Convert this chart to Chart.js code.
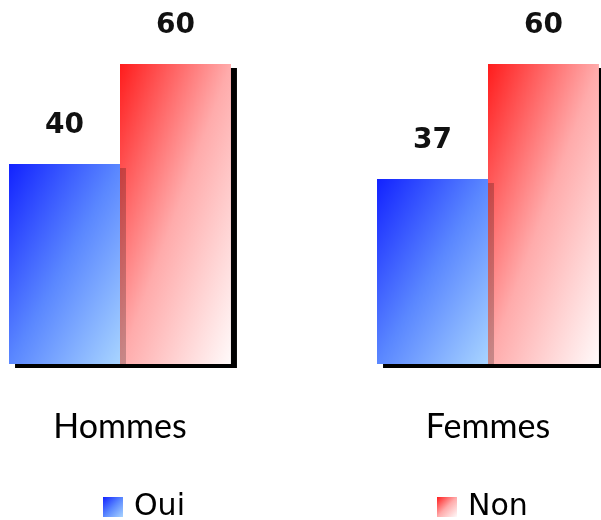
<!DOCTYPE html>
<html>
<head>
<meta charset="utf-8">
<script src="https://cdn.jsdelivr.net/npm/chart.js@4/dist/chart.umd.min.js"></script>
<style>
  html, body { margin: 0; padding: 0; background: #fff; }
</style>
</head>
<body>
<canvas id="chart" width="601" height="520"></canvas>
<script>
// data
var categories = ['Hommes', 'Femmes'];
var seriesNames = ['Oui', 'Non'];
var ouiValues = [40, 37];
var nonValues = [60, 60];
var yMin = 0;
var yMax = 60;

// gradient stops, top-left corner -> bottom-right corner
var ouiStops = ['#1222ff', '#5a87ff', '#a8d4ff'];
var nonStops = ['#ff1c1c', '#ffabab', '#fffafa'];

// linear gradient whose iso-lines follow the box's other diagonal
function diagGradient(ctx, x0, y0, w, h, stops) {
    var k = 2 * w * h / (w * w + h * h);
    var g = ctx.createLinearGradient(x0, y0, x0 + h * k, y0 + w * k);
    g.addColorStop(0, stops[0]);
    g.addColorStop(0.5, stops[1]);
    g.addColorStop(1, stops[2]);
    return g;
}

function paintMeta(chart, meta, stops, shadow) {
    var ctx = chart.ctx;
    meta.data.forEach(function (bar) {
        var p = bar.getProps(['x', 'y', 'base', 'width'], true);
        var grad = diagGradient(ctx, p.x - p.width / 2, p.y, p.width, p.base - p.y, stops);
        bar.options = Object.assign({}, bar.options, { backgroundColor: grad });
    });
    ctx.save();
    ctx.shadowColor = shadow;
    ctx.shadowOffsetX = 6;
    ctx.shadowOffsetY = 4;
    ctx.shadowBlur = 0;
    meta.controller.draw();
    ctx.restore();
}

function drawValues(chart) {
    var ctx = chart.ctx;
    ctx.save();
    ctx.font = 'bold 28px "DejaVu Sans"';
    ctx.fillStyle = '#111';
    ctx.textAlign = 'center';
    ctx.textBaseline = 'middle';
    chart.data.datasets.forEach(function (ds, di) {
        chart.getDatasetMeta(di).data.forEach(function (bar, i) {
            ctx.fillText(String(ds.data[i]), bar.x, bar.y - 38);
        });
    });
    ctx.restore();
}

var barLook = {
    id: 'barLook',
    beforeDatasetsDraw: function (chart) {
        var oui = chart.getDatasetMeta(0);
        var non = chart.getDatasetMeta(1);
        // blue shadow solid on white, faint where it falls on the red bar
        paintMeta(chart, oui, ouiStops, 'rgba(0,0,0,1)');
        paintMeta(chart, non, nonStops, 'rgba(0,0,0,1)');
        paintMeta(chart, oui, ouiStops, 'rgba(0,0,0,0.22)');
        drawValues(chart);
        return false;
    },
    afterDraw: function (chart) {
        var ctx = chart.ctx;
        var boxX = [103, 437];
        var stops = [ouiStops, nonStops];
        ctx.save();
        ctx.font = '30px "DejaVu Sans"';
        ctx.textBaseline = 'middle';
        seriesNames.forEach(function (name, i) {
            ctx.fillStyle = diagGradient(ctx, boxX[i], 497, 20, 20, stops[i]);
            ctx.fillRect(boxX[i], 497, 20, 20);
            ctx.fillStyle = '#000';
            ctx.fillText(name, boxX[i] + 31, 507);
        });
        ctx.restore();
    }
};

var chart = new Chart(document.getElementById('chart'), {
    type: 'bar',
    data: {
        labels: categories,
        datasets: [
            { label: seriesNames[0], data: ouiValues, backgroundColor: '#5a87ff' },
            { label: seriesNames[1], data: nonValues, backgroundColor: '#ffabab' }
        ]
    },
    options: {
        responsive: false,
        animation: false,
        layout: { padding: { left: 120, right: 113, top: 64, bottom: 76 } },
        datasets: {
            bar: { categoryPercentage: 0.603, barPercentage: 1, borderWidth: 0, clip: false }
        },
        plugins: {
            legend: { display: false },
            tooltip: { enabled: false }
        },
        scales: {
            x: {
                offset: false,
                grid: { display: false, drawTicks: false },
                border: { display: false },
                ticks: { padding: 43, color: '#000', font: { family: 'Lato', size: 34 } },
                afterFit: function (scale) { scale.height = 80; }
            },
            y: { display: false, min: yMin, max: yMax }
        }
    },
    plugins: [barLook]
});
</script>
</body>
</html>
